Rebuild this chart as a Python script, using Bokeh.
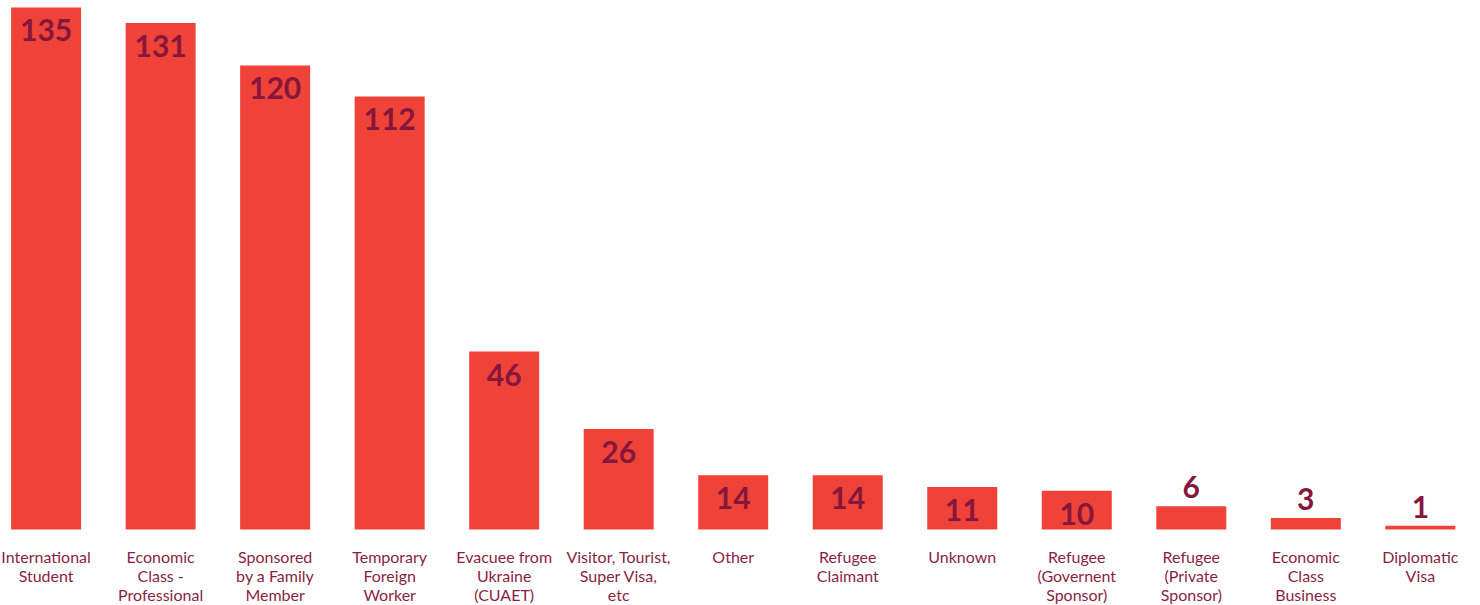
from bokeh.plotting import figure
from bokeh.models import ColumnDataSource, Range1d
from bokeh.core.properties import value
from bokeh.embed import file_html
from bokeh.resources import INLINE

categories = [
    "International\nStudent",
    "Economic\nClass -\nProfessional",
    "Sponsored\nby a Family\nMember",
    "Temporary\nForeign\nWorker",
    "Evacuee from\nUkraine\n(CUAET)",
    "Visitor, Tourist,\nSuper Visa,\netc",
    "Other",
    "Refugee\nClaimant",
    "Unknown",
    "Refugee\n(Governent\nSponsor)",
    "Refugee\n(Private\nSponsor)",
    "Economic\nClass\nBusiness",
    "Diplomatic\nVisa",
]
counts = [135, 131, 120, 112, 46, 26, 14, 14, 11, 10, 6, 3, 1]

BAR = "#EF4238"
NUM = "#86163C"
LAB = "#8A1F45"

W, H = 1480, 605
px_per_unit = 3.867
base_px = 529
y1 = base_px / px_per_unit
y0 = -(H - base_px) / px_per_unit

step_px = 114.52
first_px = 45.6
x0 = -first_px / step_px
x1 = (W - first_px) / step_px

xs = list(range(len(counts)))
inside = [c >= 10 for c in counts]
label_y = [c - 23 / px_per_unit if ins else c + 19 / px_per_unit for c, ins in zip(counts, inside)]
cat_y = -(546 - base_px) / px_per_unit

src = ColumnDataSource(dict(x=xs, top=counts, cat=categories,
                            txt=[str(c) for c in counts], ly=label_y,
                            cy=[cat_y] * len(counts)))

p = figure(width=W, height=H, output_backend="svg", toolbar_location=None,
           x_range=Range1d(x0, x1), y_range=Range1d(y0, y1),
           min_border=0, outline_line_color=None)
p.axis.visible = False
p.grid.visible = False
p.background_fill_color = "white"

p.vbar(x="x", top="top", bottom=0, width=70 / step_px, source=src, fill_color=BAR, line_color=None)

p.text(x="x", y="ly", text="txt", source=src, text_align="center", text_baseline="middle",
       text_font=value("Lato"), text_font_style="bold", text_font_size="30px", text_color=NUM)

p.text(x="x", y="cy", text="cat", source=src, text_align="center", text_baseline="top",
       text_font=value("Lato"), text_font_size="16px", text_color=LAB, text_line_height=1.0)

open("out.html", "w").write(file_html(p, INLINE))
